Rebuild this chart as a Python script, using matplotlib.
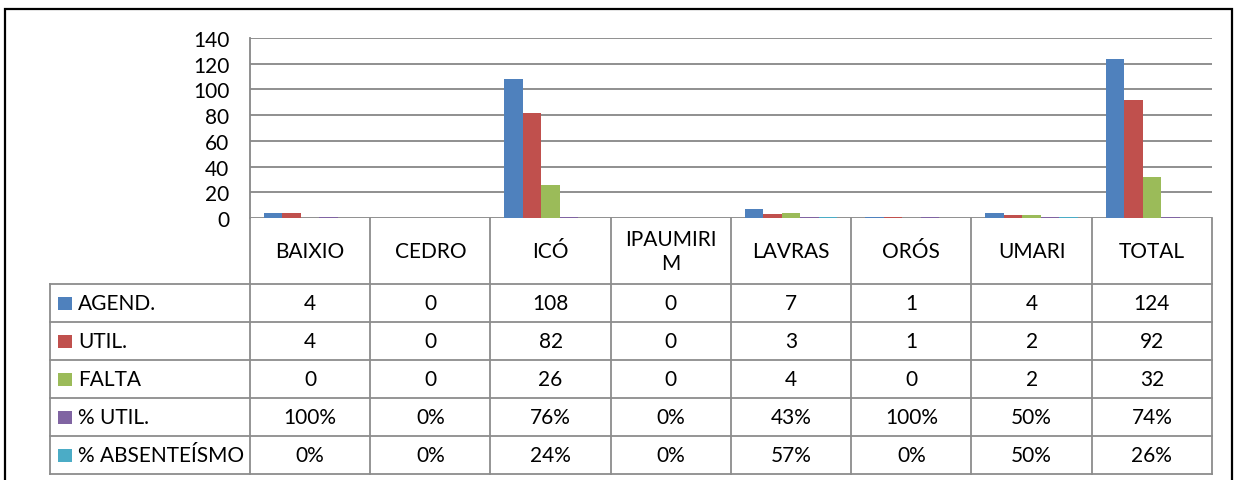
import matplotlib
matplotlib.use("Agg")
import matplotlib.pyplot as plt
from matplotlib.patches import Rectangle

categories = ["BAIXIO", "CEDRO", "ICÓ", "IPAUMIRI\nM", "LAVRAS", "ORÓS", "UMARI", "TOTAL"]
series_names = ["AGEND.", "UTIL.", "FALTA", "% UTIL.", "% ABSENTEÍSMO"]
agend = [4, 0, 108, 0, 7, 1, 4, 124]
util = [4, 0, 82, 0, 3, 1, 2, 92]
falta = [0, 0, 26, 0, 4, 0, 2, 32]
pct_util = [1.00, 0.00, 0.76, 0.00, 0.43, 1.00, 0.50, 0.74]
pct_abs = [0.00, 0.00, 0.24, 0.00, 0.57, 0.00, 0.50, 0.26]
yticks = [0, 20, 40, 60, 80, 100, 120, 140]
colors = ["#4F81BD", "#C0504D", "#9BBB59", "#8064A2", "#4BACC6"]

values = [agend, util, falta, pct_util, pct_abs]
pct_series = {3, 4}

FONT = "Lato"
FS = 15
W, H = 1243, 481
fig = plt.figure(figsize=(W / 100, H / 100), dpi=100)
fig.patch.set_facecolor("white")

GRID = "#878787"
TBL = "#8c8c8c"

# outer border
fig.patches.append(Rectangle((5 / W, -0.1), 1227 / W, 1 - 10 / H + 0.1,
                             transform=fig.transFigure, fill=False,
                             edgecolor="black", linewidth=1.6))

x0, x1 = 250, 1212
ytop, ybot = 39, 219
ax = fig.add_axes([x0 / W, 1 - ybot / H, (x1 - x0) / W, (ybot - ytop) / H])
n = len(categories)
ax.set_xlim(-0.5, n - 0.5)
ax.set_ylim(0, 140)
nser = len(values)
bw = 1 / (nser + 1.5)
for j, vals in enumerate(values):
    xs = [i + (j - (nser - 1) / 2) * bw for i in range(n)]
    ax.bar(xs, vals, width=bw, color=colors[j], edgecolor="none", zorder=3)
ax.set_yticks(yticks)
ax.set_yticklabels([str(t) for t in yticks], fontsize=FS, family=FONT)
ax.tick_params(axis="y", length=0, pad=15)
ax.set_xticks([])
for t in yticks:
    ax.axhline(t, color=GRID, linewidth=1.3, zorder=1)
for s in ["top", "right", "bottom"]:
    ax.spines[s].set_visible(False)
ax.spines["left"].set_color(GRID)
ax.spines["left"].set_linewidth(1.3)
ax.set_facecolor("none")

# table in figure pixel coords
tax = fig.add_axes([0, 0, 1, 1])
tax.set_xlim(0, W)
tax.set_ylim(H, 0)
tax.axis("off")
tax.patch.set_alpha(0)

colw = (x1 - x0) / n
lx = 50
row_edges = [285, 323, 361, 399, 437, 475]
# horizontal lines
for y in row_edges:
    tax.plot([lx, x1], [y, y], color=TBL, linewidth=1.3)
# vertical lines
tax.plot([lx, lx], [row_edges[0], row_edges[-1]], color=TBL, linewidth=1.3)
for k in range(n + 1):
    xx = x0 + k * colw
    tax.plot([xx, xx], [ybot, row_edges[-1]], color=TBL, linewidth=1.3)

# header labels
for i, c in enumerate(categories):
    tax.text(x0 + (i + 0.5) * colw, (ybot + row_edges[0]) / 2, c,
             ha="center", va="center", fontsize=FS, family=FONT, linespacing=1.25)

# rows
for j, (name, vals) in enumerate(zip(series_names, values)):
    ymid = (row_edges[j] + row_edges[j + 1]) / 2
    tax.add_patch(Rectangle((58, ymid - 6.5), 14, 13, facecolor=colors[j], edgecolor="none"))
    tax.text(78, ymid, name, ha="left", va="center", fontsize=FS, family=FONT)
    for i, v in enumerate(vals):
        s = f"{round(v * 100)}%" if j in pct_series else str(v)
        tax.text(x0 + (i + 0.5) * colw, ymid, s, ha="center", va="center",
                 fontsize=FS, family=FONT)

fig.savefig("out.png", dpi=100)
